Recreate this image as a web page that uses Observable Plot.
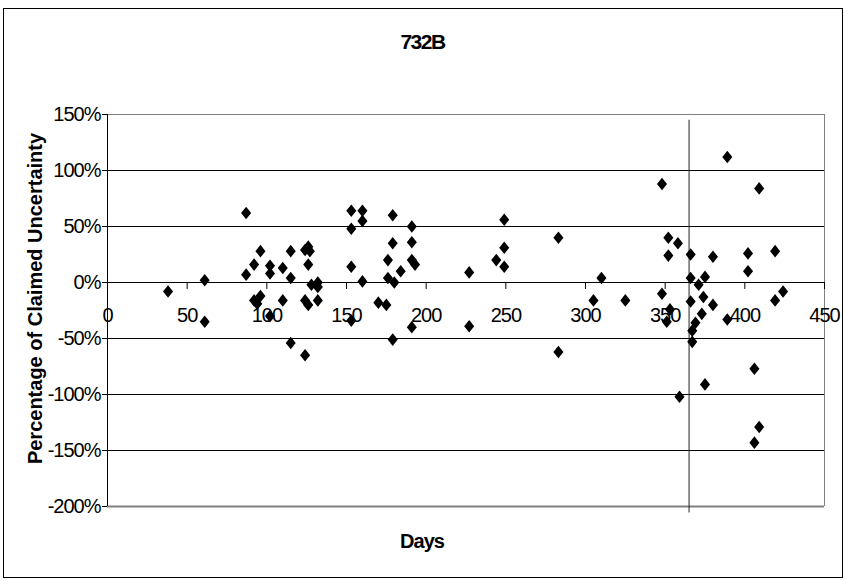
<!DOCTYPE html>
<html><head><meta charset="utf-8">
<script src="https://cdn.jsdelivr.net/npm/d3@7"></script>
<script src="https://cdn.jsdelivr.net/npm/@observablehq/plot@0.6"></script>
<style>
body{margin:0;background:#fff;}
#wrap{position:relative;width:845px;height:581px;font-family:"Liberation Sans",Arial,sans-serif;overflow:hidden;}
#frame{position:absolute;left:3px;top:8px;width:838px;height:568px;border:1px solid #000;pointer-events:none;}
#title{position:absolute;left:0;top:29px;width:845px;height:26px;line-height:26px;text-align:center;font-weight:bold;font-size:21px;letter-spacing:-1.5px;}
#chart{position:absolute;left:0;top:60px;}
</style></head>
<body>
<div id="wrap"><div id="frame"></div><div id="title">732B</div><div id="chart"></div></div>
<script>
const title = "732B";
const xLabel = "Days";
const yLabel = "Percentage of Claimed Uncertainty";
const xTicks = [0, 50, 100, 150, 200, 250, 300, 350, 400, 450];
const yTicks = [150, 100, 50, 0, -50, -100, -150, -200];
const markerDays = [365, 365];
const markerPct = [145, -205];
const days = [38,61,61,87,87,92,96,102,102,110,115,115,124,126,127,126,128,132,132,92,96,94,102,110,124,126,132,115,124,
  153,153,160,160,179,179,176,184,176,180,153,160,170,175,153,179,191,191,191,193,191,
  227,227,244,249,249,249,283,283,305,310,325,
  348,348,352,352,358,353,351,359,366,366,366,371,375,380,374,380,373,369,367,367,375,389,409,402,402,419,424,419,389,406,409,406];
const pct = [-8,2,-35,62,7,16,28,15,8,13,28,4,29,32,28,16,-2,0,-4,-16,-12,-19,-30,-16,-16,-20,-16,-54,-65,
  64,48,64,55,60,35,20,10,4,0,14,1,-18,-20,-34,-51,50,36,20,16,-40,
  9,-39,20,14,31,56,40,-62,-16,4,-16,
  88,-10,40,24,35,-24,-35,-102,25,4,-17,-2,5,23,-13,-20,-28,-36,-43,-53,-91,112,84,26,10,28,-8,-16,-33,-77,-129,-143];

document.getElementById("title").textContent = title;
const points = days.map((d, i) => ({day: d, pct: pct[i]}));
const vline = markerDays.map((d, i) => ({day: d, pct: markerPct[i]}));
const diamond = {draw(ctx, size) {
  const r = Math.sqrt(size / Math.PI);
  const h = r, w = r * 0.8;
  ctx.moveTo(0, -h); ctx.lineTo(w, 0); ctx.lineTo(0, h); ctx.lineTo(-w, 0); ctx.closePath();
}};
const inner = yTicks.filter(d => d < 150 && d > -200);
const plot = Plot.plot({
  width: 845, height: 521,
  marginLeft: 107, marginRight: 21, marginTop: 54, marginBottom: 75,
  style: {fontFamily: "'Liberation Sans', Arial, sans-serif", fontSize: "20px", letterSpacing: "-1px", color: "#000", background: "transparent", overflow: "visible"},
  x: {domain: [0, 450], axis: null},
  y: {domain: [-200, 150], axis: null},
  marks: [
    Plot.ruleY(inner, {stroke: "#000", strokeWidth: 1}),
    Plot.ruleY([150], {stroke: "#808080", strokeWidth: 1}),
    Plot.ruleY([-200], {stroke: "#808080", strokeWidth: 2}),
    Plot.ruleX([450], {stroke: "#808080", strokeWidth: 1}),
    Plot.ruleX([0], {stroke: "#000", strokeWidth: 1}),
    Plot.ruleY(yTicks, {x1: 0, x2: 0, insetLeft: -5, stroke: "#000"}),
    Plot.text(yTicks, {x: 0, y: d => d, dx: -7, textAnchor: "end", text: d => d + "%", fontSize: 20}),
    Plot.ruleX(xTicks.filter(d => d > 0), {x: d => d, y1: 0, y2: -6.2, stroke: "#000"}),
    Plot.text(xTicks, {x: d => d, y: 0, dy: 33, text: d => String(d), fontSize: 20}),
    Plot.line(vline, {x: "day", y: "pct", stroke: "#222", strokeWidth: 1, clip: false}),
    Plot.dot(points, {x: "day", y: "pct", symbol: diamond, r: 6.3, fill: "#000", stroke: "none"}),
    Plot.text([xLabel], {frameAnchor: "bottom", dx: -44, dy: 41, textAnchor: "middle", fontWeight: "bold", fontSize: 20}),
    Plot.text([yLabel], {frameAnchor: "left", dx: -72, dy: -12, rotate: -90, textAnchor: "middle", lineAnchor: "middle", fontWeight: "bold", fontSize: 20})
  ]
});
d3.select(plot).selectAll("text").filter(function() { return this.textContent === yLabel; }).style("letter-spacing", "0px");
document.getElementById("chart").appendChild(plot);
</script>
</body></html>
